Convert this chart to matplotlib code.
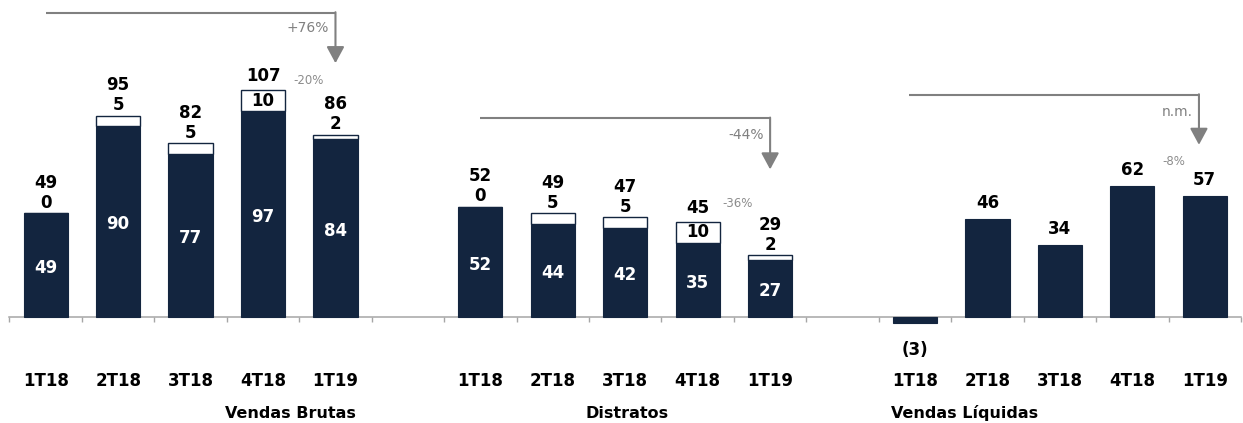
import matplotlib
matplotlib.use("Agg")
import matplotlib.pyplot as plt

plt.rcParams["font.family"] = ["DejaVu Sans"]

# Chart values (milhões)
quarters = ["1T18", "2T18", "3T18", "4T18", "1T19"]
groups = ["Vendas Brutas", "Distratos", "Vendas Líquidas"]

brutas_base = [49, 90, 77, 97, 84]
brutas_extra = [0, 5, 5, 10, 2]
brutas_total = [49, 95, 82, 107, 86]

distratos_base = [52, 44, 42, 35, 27]
distratos_extra = [0, 5, 5, 10, 2]
distratos_total = [52, 49, 47, 45, 29]

liquidas = [-3, 46, 34, 62, 57]

yoy_labels = ["+76%", "-44%", "n.m."]
qoq_labels = ["-20%", "-36%", "-8%"]

navy = "#13253f"
grey = "#808080"

fig, ax = plt.subplots(figsize=(12.43, 4.23), dpi=100)
ax.set_position([0, 0, 1, 1])

# 17 slots: 5 bars, gap, 5 bars, gap, 5 bars
starts = [0, 6, 12]
width = 0.61


def bar_label(x, y, text, dy, color="black", va="center"):
    ax.annotate(text, (x, y), xytext=(0, dy), textcoords="offset points",
                ha="center", va=va, fontsize=12, fontweight="bold", color=color)


# Stacked groups (dark base + white top part)
for start, base, extra, total in [(starts[0], brutas_base, brutas_extra, brutas_total),
                                  (starts[1], distratos_base, distratos_extra, distratos_total)]:
    for i in range(len(base)):
        x = start + i
        ax.bar(x, base[i], width=width, color=navy, edgecolor=navy, linewidth=0.8, zorder=3)
        ax.bar(x, extra[i], bottom=base[i], width=width, color="white",
               edgecolor=navy, linewidth=1.0, zorder=3)
        top = base[i] + extra[i]
        bar_label(x, base[i] / 2, str(base[i]), -2, color="white")
        if extra[i] >= 8:
            # label fits inside the white part
            bar_label(x, base[i] + extra[i] / 2, str(extra[i]), 0)
            bar_label(x, top, str(total[i]), 10)
        else:
            bar_label(x, top, str(extra[i]), 7.5)
            bar_label(x, top, str(total[i]), 22)

# Net sales
for i, v in enumerate(liquidas):
    x = starts[2] + i
    ax.bar(x, v, width=width, color=navy, edgecolor=navy, linewidth=0.8, zorder=3)
    if v < 0:
        ax.annotate("(%d)" % abs(v), (x, v), xytext=(0, -19), textcoords="offset points",
                    ha="center", va="center", fontsize=12, fontweight="bold")
    else:
        bar_label(x, v, str(v), 11.5)

# Category and group labels
for start in starts:
    for i, q in enumerate(quarters):
        ax.text(start + i, -30.4, q, ha="center", va="center",
                fontsize=12, fontweight="bold")
for gx, name in zip([3.38, 8.03, 12.68], groups):
    ax.text(gx, -45.3, name, ha="center", va="center", fontsize=11.5, fontweight="bold")

# Year-on-year brackets with arrows
bracket_y = [143.4, 93.7, 104.7]
tip_y = [119.7, 69.6, 81.2]
shift = [0.0, 0.0, -0.08]
yoy_y = [136.5, 85.8, 96.8]
for k, start in enumerate(starts):
    x0 = start + shift[k]
    x1 = start + 4 + shift[k]
    ax.plot([x0, x1], [bracket_y[k], bracket_y[k]], color=grey, lw=1.5,
            solid_capstyle="butt", zorder=4)
    ax.annotate("", xy=(x1, tip_y[k]), xytext=(x1, bracket_y[k] + 0.35),
                arrowprops=dict(arrowstyle="-|>,head_length=1.0,head_width=0.54",
                                mutation_scale=10, color=grey, lw=1.5,
                                shrinkA=0, shrinkB=0), zorder=4)
    ax.text(x1 - 0.09, yoy_y[k], yoy_labels[k], ha="right", va="center",
            fontsize=10, color=grey)

# Quarter-on-quarter changes
qoq_x = [3.42, 9.34, 15.41]
qoq_y = [111.3, 53.6, 73.3]
for k in range(3):
    ax.text(qoq_x[k], qoq_y[k], qoq_labels[k], ha="left", va="center",
            fontsize=8.5, color="#8c8c8c")

# Axis: only a baseline with boundary ticks
ax.set_xlim(-0.631, 16.528)
ax.set_ylim(-50, 149.5)
for side in ["top", "right", "left"]:
    ax.spines[side].set_visible(False)
ax.spines["bottom"].set_position(("data", 0))
ax.spines["bottom"].set_bounds(-0.5, 16.5)
ax.spines["bottom"].set_color("#a6a6a6")
ax.spines["bottom"].set_linewidth(1.1)
ax.set_xticks([b - 0.5 for b in range(18)])
ax.tick_params(axis="x", length=3.6, width=1, color="#a6a6a6", direction="out",
               labelbottom=False)
ax.set_yticks([])

fig.savefig("out.png", dpi=100)
